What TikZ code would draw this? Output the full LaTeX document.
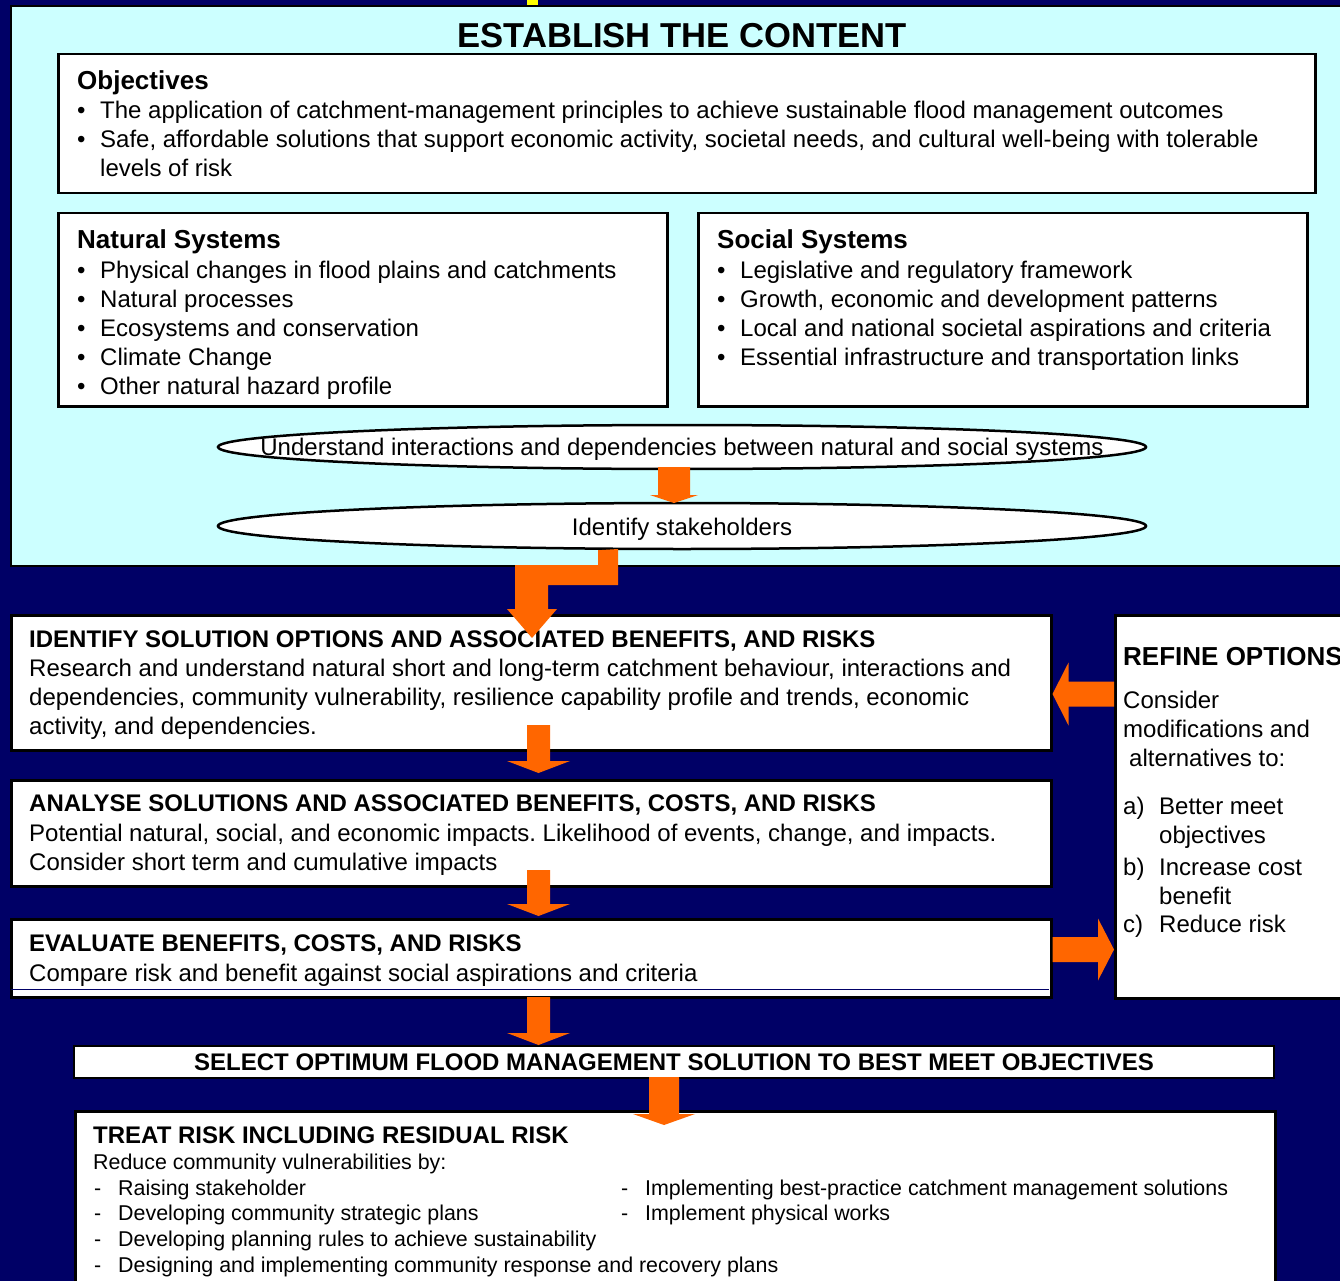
\documentclass[tikz,border=0pt]{standalone}
\usepackage{fontspec}
\setmainfont{Liberation Sans}
\usetikzlibrary{calc,shapes.geometric}
\frenchspacing

\definecolor{navy}{HTML}{000066}
\definecolor{paleaqua}{HTML}{CCFFFF}
\definecolor{flow}{HTML}{FF6600}
\definecolor{tab}{HTML}{FFFF00}

\tikzset{
  panel/.style={draw=black, line width=2.5pt, fill=white, anchor=north west, inner sep=0pt},
  txt/.style={anchor=base west, inner sep=0pt, font=\fontsize{24}{29}\selectfont},
  head/.style={txt, font=\fontsize{26}{31}\selectfont\bfseries},
  caps/.style={txt, font=\fontsize{24}{29}\selectfont\bfseries},
  small/.style={txt, font=\fontsize{21.4}{25}\selectfont},
  oval/.style={ellipse, draw=black, line width=2.5pt, fill=white, inner sep=0pt},
  ovaltext/.style={anchor=base, inner sep=0pt, font=\fontsize{24}{29}\selectfont}
}

% bullet row: name, x of bullet, baseline, text
\newcommand\bulletrow[4]{%
  \node[txt] (#1b) at (#2,#3) {•};
  \node[txt, xshift=23pt] (#1) at (#2,#3) {#4};}
% dash row: name, x of dash, baseline, text
\newcommand\dashrow[4]{%
  \node[small] (#1b) at (#2,#3) {-};
  \node[small, xshift=24pt] (#1) at (#2,#3) {#4};}
% lettered row: name, x of label, baseline, label, text
\newcommand\letterrow[5]{%
  \node[txt] (#1b) at (#2,#3) {#4};
  \node[txt, xshift=36pt] (#1) at (#2,#3) {#5};}

% vertical block arrow: start, tip, shaft half width, head half width, head length
\newcommand\downblock[5]{%
  \fill[flow] let \p1=(#1), \p2=(#2) in
    (\x1-#3pt,\y1) -- (\x1+#3pt,\y1) -- (\x1+#3pt,\y2+#5pt) -- (\x1+#4pt,\y2+#5pt)
    -- (\x1,\y2) -- (\x1-#4pt,\y2+#5pt) -- (\x1-#3pt,\y2+#5pt) -- cycle;}
% horizontal block arrow: start, tip, shaft half height, head half height, signed head length
\newcommand\sideblock[5]{%
  \fill[flow] let \p1=(#1), \p2=(#2) in
    (\x1,\y1+#3pt) -- (\x2+#5pt,\y1+#3pt) -- (\x2+#5pt,\y1+#4pt) -- (\x2,\y1)
    -- (\x2+#5pt,\y1-#4pt) -- (\x2+#5pt,\y1-#3pt) -- (\x1,\y1-#3pt) -- cycle;}

\begin{document}
\begin{tikzpicture}[x=1pt, y=-1pt]
\useasboundingbox (0,0) rectangle (1340,1281);
\clip (0,0) rectangle (1340,1281);
\fill[navy] (0,0) rectangle (1340,1281);
\fill[tab] (527,0) rectangle (538,5);

% ---- context panel ----
\node[draw=black, line width=2pt, fill=paleaqua, anchor=north west, inner sep=0pt,
      minimum width=1345pt, minimum height=560pt] (content) at (10,5) {};
\node[anchor=base, inner sep=0pt, font=\fontsize{34.6}{40}\selectfont\bfseries] (contenth) at (682,48) {ESTABLISH THE CONTENT};

\node[panel, minimum width=1257pt, minimum height=139pt] (obj) at (57,53) {};
\node[head] (objh) at (77,90) {Objectives};
\bulletrow{o1}{77}{119}{The application of catchment-management principles to achieve sustainable flood management outcomes}
\bulletrow{o2}{77}{148}{Safe, affordable solutions that support economic activity, societal needs, and cultural well-being with tolerable}
\node[txt] (o3) at (100,177) {levels of risk};

\node[panel, minimum width=609pt, minimum height=193pt] (nat) at (57,212) {};
\node[head] (nath) at (77,249) {Natural Systems};
\bulletrow{n1}{77}{278}{Physical changes in flood plains and catchments}
\bulletrow{n2}{77}{307}{Natural processes}
\bulletrow{n3}{77}{336}{Ecosystems and conservation}
\bulletrow{n4}{77}{365}{Climate Change}
\bulletrow{n5}{77}{394}{Other natural hazard profile}

\node[panel, minimum width=609pt, minimum height=193pt] (soc) at (697,212) {};
\node[head] (soch) at (717,249) {Social Systems};
\bulletrow{s1}{717}{278}{Legislative and regulatory framework}
\bulletrow{s2}{717}{307}{Growth, economic and development patterns}
\bulletrow{s3}{717}{336}{Local and national societal aspirations and criteria}
\bulletrow{s4}{717}{365}{Essential infrastructure and transportation links}

\node[oval, minimum width=928pt, minimum height=44pt] (ell1) at (682,447) {};
\node[ovaltext] (ell1t) at (682,455)
  {Understand interactions and dependencies between natural and social systems};
\node[oval, minimum width=928pt, minimum height=46pt] (ell2) at (682,526) {};
\node[ovaltext] (ell2t) at (682,535) {Identify stakeholders};

% ---- process panels ----
\node[panel, minimum width=1040pt, minimum height=135pt] (ident) at (10,614) {};
\node[caps] (identh) at (29,647) {IDENTIFY SOLUTION OPTIONS AND ASSOCIATED BENEFITS, AND RISKS};
\node[txt] (id1) at (29,676) {Research and understand natural short and long-term catchment behaviour, interactions and};
\node[txt] (id2) at (29,705) {dependencies, community vulnerability, resilience capability profile and trends, economic};
\node[txt] (id3) at (29,734) {activity, and dependencies.};

\node[panel, minimum width=1040pt, minimum height=106pt] (anal) at (10,779) {};
\node[caps] (analh) at (29,811) {ANALYSE SOLUTIONS AND ASSOCIATED BENEFITS, COSTS, AND RISKS};
\node[txt] (an1) at (29,841) {Potential natural, social, and economic impacts. Likelihood of events, change, and impacts.};
\node[txt] (an2) at (29,870) {Consider short term and cumulative impacts};

\node[panel, minimum width=1040pt, minimum height=78pt] (eval) at (10,918) {};
\draw[navy, line width=1pt] (11,989) -- (1049,989);
\node[caps] (evalh) at (29,951) {EVALUATE BENEFITS, COSTS, AND RISKS};
\node[txt] (ev1) at (29,981) {Compare risk and benefit against social aspirations and criteria};

\node[panel, anchor=center, minimum width=1200pt, minimum height=32pt,
      font=\fontsize{24}{29}\selectfont\bfseries] (sel) at (674,1062)
  {SELECT OPTIMUM FLOOD MANAGEMENT SOLUTION TO BEST MEET OBJECTIVES};

\node[panel, minimum width=1200pt, minimum height=190pt] (treat) at (74,1110) {};
\node[caps] (treath) at (93,1143) {TREAT RISK INCLUDING RESIDUAL RISK};
\node[small] (tr0) at (93,1169) {Reduce community vulnerabilities by:};
\dashrow{tr1}{94}{1195.5}{Raising stakeholder}
\dashrow{tr2}{94}{1220.5}{Developing community strategic plans}
\dashrow{tr3}{94}{1246.5}{Developing planning rules to achieve sustainability}
\dashrow{tr4}{94}{1272.5}{Designing and implementing community response and recovery plans}
\dashrow{tr5}{621}{1195.5}{Implementing best-practice catchment management solutions}
\dashrow{tr6}{621}{1220.5}{Implement physical works}

\node[panel, minimum width=240pt, minimum height=383pt] (refine) at (1114,614) {};
\node[head] (refineh) at (1123,665) {REFINE OPTIONS};
\node[txt] (rf1) at (1123,708) {Consider};
\node[txt] (rf2) at (1123,737) {modifications and};
\node[txt] (rf3) at (1129,766) {alternatives to:};
\letterrow{rfa}{1123}{814}{a)}{Better meet}
\node[txt] (rfa2) at (1159,843) {objectives};
\letterrow{rfb}{1123}{875}{b)}{Increase cost}
\node[txt] (rfb2) at (1159,904) {benefit};
\letterrow{rfc}{1123}{932}{c)}{Reduce risk}

% ---- flow arrows ----
\coordinate (f0s) at (674,467);  \coordinate (f0e) at (674,503);
\downblock{f0s}{f0e}{16}{24}{8}

\fill[flow] (ell2.south -| 598,0) -- (618,549) -- (618,585) -- (548,585) -- (548,609)
  -- (557,609) -- (532,638) -- (507,609) -- (515,609) -- (515,565) -- (598,565) -- cycle;

\coordinate (f1s) at (538.5,725);  \coordinate (f1e) at (538.5,773);
\downblock{f1s}{f1e}{11.5}{31.5}{12}
\coordinate (f2s) at (538.5,870);  \coordinate (f2e) at (538.5,916);
\downblock{f2s}{f2e}{11.5}{31.5}{12}
\coordinate (f3s) at (538.5,997);  \coordinate (f3e) at (538.5,1045);
\downblock{f3s}{f3e}{11.5}{31.5}{12}
\coordinate (f4s) at (664,1077);  \coordinate (f4e) at (664,1125);
\downblock{f4s}{f4e}{15}{31}{11}

\coordinate (r1s) at (refine.west |- 0,694);  \coordinate (r1e) at (ident.east |- 0,694);
\sideblock{r1s}{r1e}{12.5}{31.5}{16}
\coordinate (r2s) at (eval.east |- 0,949.5);  \coordinate (r2e) at (refine.west |- 0,949.5);
\sideblock{r2s}{r2e}{12.5}{31}{-16}
\end{tikzpicture}
\end{document}
